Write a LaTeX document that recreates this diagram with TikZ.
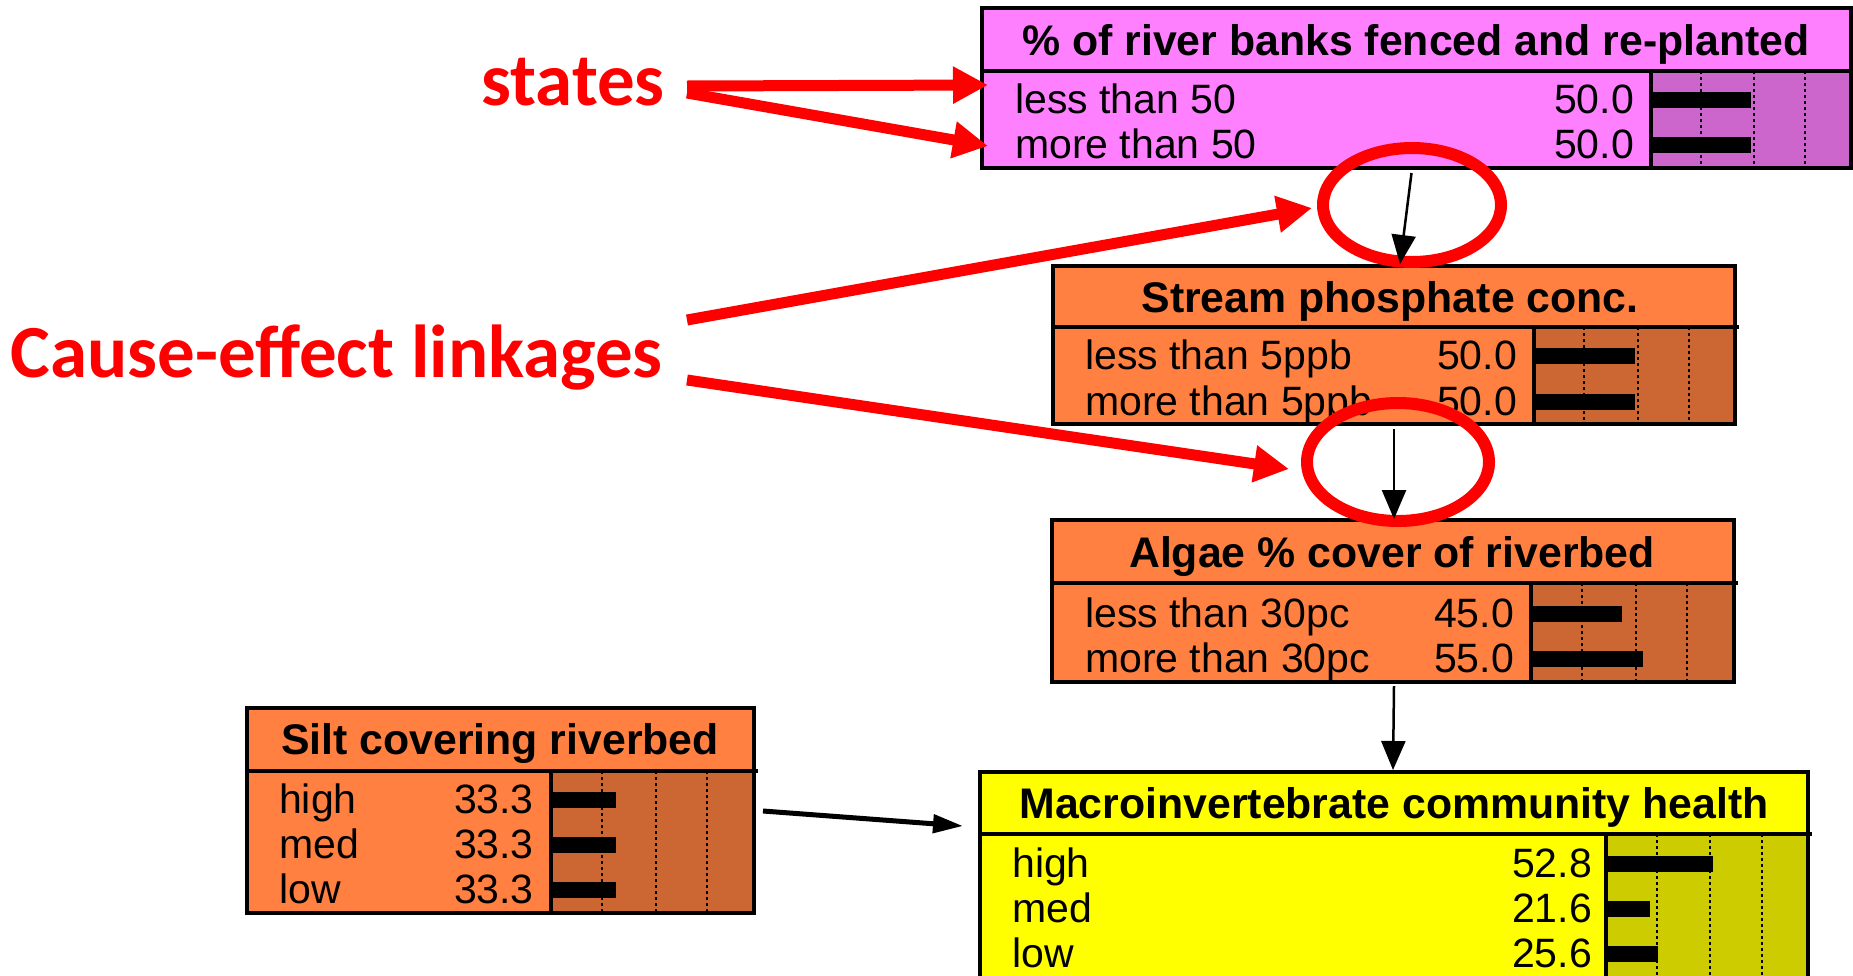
\documentclass[tikz,border=0pt]{standalone}
\usepackage{fontspec}
\setmainfont{Liberation Sans}
\newfontfamily\calfont{Carlito}
\usetikzlibrary{arrows.meta,shapes.geometric}
\definecolor{pinkA}{HTML}{FF80FF}
\definecolor{pinkB}{HTML}{CC66CC}
\definecolor{orA}{HTML}{FF8040}
\definecolor{orB}{HTML}{CC6633}
\definecolor{yeA}{HTML}{FFFF00}
\definecolor{yeB}{HTML}{CCCC00}
\definecolor{redA}{HTML}{FF0000}
\newcommand\pbar[4]{\fill[black] ({#1},{#3-21}) rectangle ({#1+#2*#4/100},{#3-5});}
\newcommand\pticks[4]{\foreach \f in {0.25,0.515,0.77}{\draw[tick] ({#1+#2*\f},{#3}) -- ({#1+#2*\f},{#4});}}
\begin{document}
\begin{tikzpicture}[x=1pt,y=-1pt,
 boxline/.style={line width=3.5pt, draw=black},
 frame/.style={anchor=north west, inner sep=0pt, outer sep=0pt, draw=none},
 ttl/.style={font=\fontsize{42.8}{45}\selectfont\bfseries, inner sep=0pt, anchor=base},
 rowl/.style={font=\fontsize{41}{44}\selectfont, inner sep=0pt, anchor=base west},
 rowr/.style={font=\fontsize{41}{44}\selectfont, inner sep=0pt, anchor=base east},
 tick/.style={line width=2pt, dash pattern=on 3pt off 3pt},
 link/.style={line width=2.5pt, -{Triangle[length=29pt,width=24pt]}},
 redarrow/.style={draw=redA, line width=11pt, -{Triangle[length=35pt,width=35pt]}},
 ring/.style={ellipse, draw=redA, line width=12pt, inner sep=0pt},
 redlabel/.style={font=\calfont\bfseries\fontsize{75}{80}\selectfont, text=redA, inner sep=0pt, anchor=base east},
]
\useasboundingbox (0,0) rectangle (1853,975);
\fill[white] (0,0) rectangle (1853,975);

% ---------- top box: % of river banks ----------
\node[frame, fill=pinkA, minimum width=869pt, minimum height=160pt] (top) at (982,8) {};
\fill[pinkB] (1651,71) rectangle (1851,168);
\pticks{1651}{200}{71}{168}
\pbar{1651}{200}{113}{50}
\pbar{1651}{200}{158}{50}
\draw[boxline] (982,71) -- (1855,71);
\draw[boxline] (1651,71) -- (1651,168);
\draw[boxline] (top.north west) rectangle (top.south east);
\node[ttl] (topT) at (1416,55) {\% of river banks fenced and re-planted};
\node[rowl] (top1) at (1015,113) {less than 50};
\node[rowr] (top1v) at (1634,113) {50.0};
\node[rowl] (top2) at (1015,158) {more than 50};
\node[rowr] (top2v) at (1634,158) {50.0};

% ---------- phosphate ----------
\node[frame, fill=orA, minimum width=682pt, minimum height=158pt] (phos) at (1053,266) {};
\fill[orB] (1534,327) rectangle (1735,424);
\pticks{1534}{201}{327}{424}
\pbar{1534}{201}{369}{50}
\pbar{1534}{201}{415}{50}
\draw[boxline] (1053,327) -- (1739,327);
\draw[boxline] (1534,327) -- (1534,424);
\draw[boxline] (phos.north west) rectangle (phos.south east);
\node[ttl] (phosT) at (1390,312) {Stream phosphate conc.};
\node[rowl] (phos1) at (1085,369) {less than 5ppb};
\node[rowr] (phos1v) at (1517,369) {50.0};
\node[rowl] (phos2) at (1085,415) {more than 5ppb};
\node[rowr] (phos2v) at (1517,415) {50.0};

% ---------- algae ----------
\node[frame, fill=orA, minimum width=682pt, minimum height=162pt] (alg) at (1052,520) {};
\fill[orB] (1531,583) rectangle (1734,682);
\pticks{1531}{203}{583}{682}
\pbar{1531}{203}{627}{45}
\pbar{1531}{203}{672}{55}
\draw[boxline] (1052,583) -- (1738,583);
\draw[boxline] (1531,583) -- (1531,682);
\draw[boxline] (alg.north west) rectangle (alg.south east);
\node[ttl] (algT) at (1392,567) {Algae \% cover of riverbed};
\node[rowl] (alg1) at (1085,627) {less than 30pc};
\node[rowr] (alg1v) at (1514,627) {45.0};
\node[rowl] (alg2) at (1085,672) {more than 30pc};
\node[rowr] (alg2v) at (1514,672) {55.0};

% ---------- silt ----------
\node[frame, fill=orA, minimum width=507pt, minimum height=205pt] (silt) at (247,708) {};
\fill[orB] (551,771) rectangle (754,913);
\pticks{551}{203}{771}{913}
\pbar{551}{203}{813}{32}
\pbar{551}{203}{858}{32}
\pbar{551}{203}{903}{32}
\draw[boxline] (247,771) -- (758,771);
\draw[boxline] (551,771) -- (551,913);
\draw[boxline] (silt.north west) rectangle (silt.south east);
\node[ttl] (siltT) at (500,754) {Silt covering riverbed};
\node[rowl] (silt1) at (279,813) {high};
\node[rowr] (silt1v) at (534,813) {33.3};
\node[rowl] (silt2) at (279,858) {med};
\node[rowr] (silt2v) at (534,858) {33.3};
\node[rowl] (silt3) at (279,903) {low};
\node[rowr] (silt3v) at (534,903) {33.3};

% ---------- macroinvertebrate ----------
\node[frame, fill=yeA, minimum width=828pt, minimum height=218pt] (mac) at (980,772) {};
\fill[yeB] (1606,834) rectangle (1808,990);
\pticks{1606}{202}{834}{990}
\pbar{1606}{202}{877}{52.8}
\pbar{1606}{202}{922}{21.6}
\pbar{1606}{202}{967}{25.6}
\draw[boxline] (980,834) -- (1812,834);
\draw[boxline] (1606,834) -- (1606,990);
\draw[boxline] (mac.north west) rectangle (mac.south east);
\node[ttl] (macT) at (1394,818) {Macroinvertebrate community health};
\node[rowl] (mac1) at (1012,877) {high};
\node[rowr] (mac1v) at (1592,877) {52.8};
\node[rowl] (mac2) at (1012,922) {med};
\node[rowr] (mac2v) at (1592,922) {21.6};
\node[rowl] (mac3) at (1012,967) {low};
\node[rowr] (mac3v) at (1592,967) {25.6};

% ---------- red rings ----------
\node[ring, minimum width=178pt, minimum height=114pt] (e1) at (1412,205) {};
\node[ring, minimum width=182pt, minimum height=118pt] (e2) at (1398,462) {};

% ---------- black cause-effect links ----------
\draw[link] ([shift={(-5,5)}]top.south) -- ([shift={(6,-2)}]phos.north);
\draw[link] ([shift={(0,5)}]phos.south) -- ([shift={(1,-1)}]alg.north);
\draw[link] ([shift={(1,4)}]alg.south) -- ([shift={(-1,-2)}]mac.north);
\draw[line width=5pt, -{Triangle[length=30pt,width=18pt]}] ([shift={(9,0.5)}]silt.east) -- ([shift={(-17,-55)}]mac.west);

% ---------- red labels and arrows ----------
\node[redlabel] (states) at (665,105) {states};
\node[redlabel] (cause) at (663,377) {Cause-effect linkages};
\coordinate (sA) at (687,86);
\coordinate (sB) at (687,93);
\coordinate (cA) at (687,320);
\coordinate (cB) at (687,380);
\draw[redarrow] (sA) -- ([shift={(6,-3)}]top.west);
\draw[redarrow] (sB) -- ([shift={(6,58)}]top.west);
\draw[redarrow] (cA) -- ([shift={(-5,3)}]e1.west);
\draw[redarrow] (cB) -- ([shift={(-12,7)}]e2.west);
\end{tikzpicture}
\end{document}
